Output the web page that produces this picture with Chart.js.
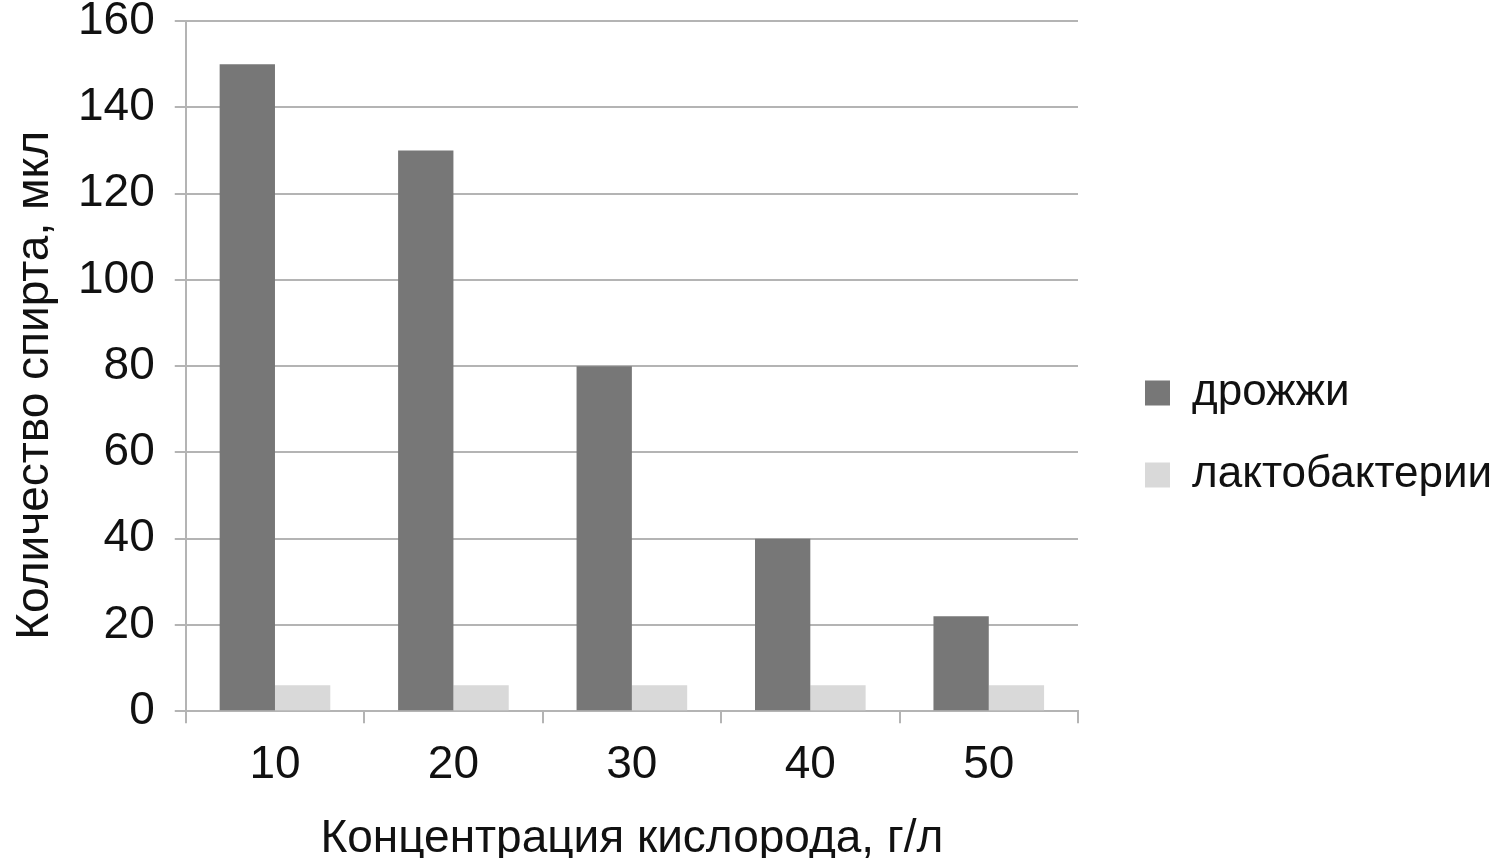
<!DOCTYPE html>
<html>
<head>
<meta charset="utf-8">
<script src="https://cdn.jsdelivr.net/npm/chart.js@4.4.1/dist/chart.umd.min.js"></script>
<style>
  body { margin: 0; background: #fff; }
  #wrap { width: 1500px; height: 858px; }
</style>
</head>
<body>
<div id="wrap"><canvas id="chart" width="1500" height="858"></canvas></div>
<script>
const categories = ["10", "20", "30", "40", "50"];
const yeast = [150, 130, 80, 40, 22];
const lacto = [6, 6, 6, 6, 6];
const seriesNames = ["дрожжи", "лактобактерии"];
const yTicks = { min: 0, max: 160, step: 20 };

const font = "'Liberation Sans', Arial, sans-serif";
const gridColor = "#b4b4b4";
const textColor = "#111";

// legend on the right, drawn by hand (the built-in one gets clipped at this width)
const sideLegend = {
  id: "sideLegend",
  afterDraw(chart) {
    const c = chart.ctx;
    const x = chart.chartArea.right + 67;
    c.save();
    c.font = "44px " + font;
    c.textBaseline = "middle";
    c.textAlign = "left";
    chart.data.datasets.forEach((ds, i) => {
      const y = 393 + i * 82;
      c.fillStyle = ds.backgroundColor;
      c.fillRect(x, y - 12.5, 25, 25);
      c.fillStyle = textColor;
      c.fillText(ds.label, x + 47, y);
    });
    c.restore();
  },
};

const ctx = document.getElementById("chart").getContext("2d");
new Chart(ctx, {
  type: "bar",
  data: {
    labels: categories,
    datasets: [
      { label: seriesNames[0], data: yeast, backgroundColor: "#777777" },
      { label: seriesNames[1], data: lacto, backgroundColor: "#d9d9d9" },
    ],
  },
  plugins: [sideLegend],
  options: {
    responsive: false,
    animation: false,
    devicePixelRatio: 1,
    categoryPercentage: 0.62,
    barPercentage: 1,
    layout: { padding: { left: 12, right: 422, top: 0, bottom: 0 } },
    plugins: {
      tooltip: { enabled: false },
      legend: { display: false },
    },
    scales: {
      x: {
        grid: { display: true, drawOnChartArea: false, drawTicks: true, tickLength: 12, color: gridColor, lineWidth: 2 },
        border: { color: gridColor, width: 2 },
        ticks: { color: textColor, padding: 19, font: { family: font, size: 46, lineHeight: 1 } },
        title: {
          display: true,
          text: "Концентрация кислорода, г/л",
          color: textColor,
          padding: { top: 14, bottom: 0 },
          font: { family: font, size: 46, lineHeight: 0.8 },
        },
      },
      y: {
        min: yTicks.min,
        max: yTicks.max,
        grid: { color: gridColor, lineWidth: 2, tickLength: 11 },
        border: { color: gridColor, width: 2 },
        ticks: { stepSize: yTicks.step, color: textColor, padding: 20, font: { family: font, size: 46, lineHeight: 0.05 } },
        title: {
          display: true,
          text: "Количество спирта, мкл   ",
          color: textColor,
          padding: { top: 0, bottom: 0 },
          font: { family: font, size: 46, lineHeight: 1 },
        },
      },
    },
  },
});
</script>
</body>
</html>
